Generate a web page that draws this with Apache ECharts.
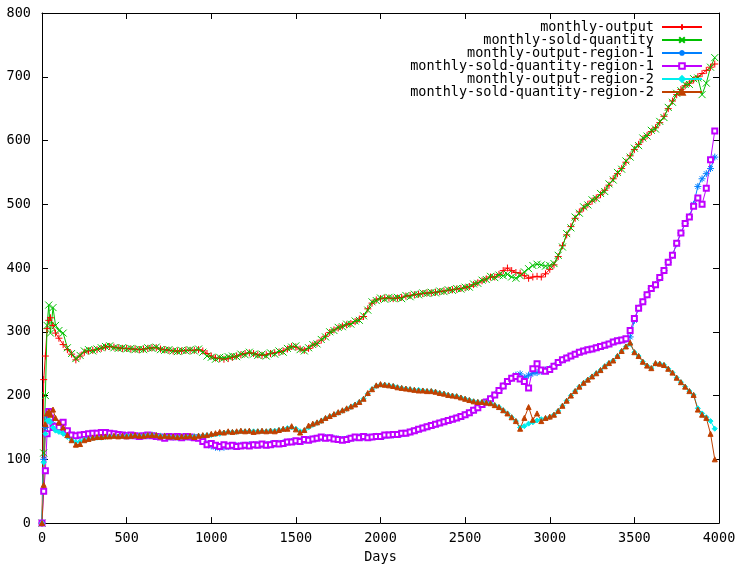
<!DOCTYPE html>
<html><head><meta charset="utf-8">
<script src="https://cdn.jsdelivr.net/npm/echarts@6/dist/echarts.min.js"></script>
<style>html,body{margin:0;padding:0;background:#fff;overflow:hidden}#c{width:739px;height:569px}</style>
</head><body><div id="c"></div>
<script>
var days = [0,10,20,30,40,50,65,80,
100,125,150,175,200,225,250,275,300,325,
350,375,400,425,450,475,500,525,550,575,
600,625,650,675,700,725,750,775,800,825,
850,875,900,925,950,975,1000,1025,1050,1075,
1100,1125,1150,1175,1200,1225,1250,1275,1300,1325,
1350,1375,1400,1425,1450,1475,1500,1525,1550,1575,
1600,1625,1650,1675,1700,1725,1750,1775,1800,1825,
1850,1875,1900,1925,1950,1975,2000,2025,2050,2075,
2100,2125,2150,2175,2200,2225,2250,2275,2300,2325,
2350,2375,2400,2425,2450,2475,2500,2525,2550,2575,
2600,2625,2650,2675,2700,2725,2750,2775,2800,2825,
2850,2875,2900,2925,2950,2975,3000,3025,3050,3075,
3100,3125,3150,3175,3200,3225,3250,3275,3300,3325,
3350,3375,3400,3425,3450,3475,3500,3525,3550,3575,
3600,3625,3650,3675,3700,3725,3750,3775,3800,3825,
3850,3875,3900,3925,3950,3975];

var monthlyOutput = [0,225,262,305,318,322,310,298,
290,280,272,265,256,262,268,270,271,272,
274,276,277,276,275,274,274,273,273,272,
273,274,275,275,273,272,271,270,270,270,
271,271,271,272,270,266,262,259,258,257,
258,260,262,264,266,267,266,264,263,264,
266,267,268,270,273,277,276,273,271,274,
279,282,287,293,299,303,306,309,311,313,
316,320,324,336,345,350,352,353,353,352,
353,354,356,357,358,359,360,361,361,362,
363,364,365,366,367,368,369,371,374,377,
380,383,386,386,390,396,400,396,393,392,
388,384,386,387,386,391,398,405,418,435,
452,465,478,488,494,500,505,510,515,522,
530,540,548,556,566,576,586,594,602,608,
614,620,628,638,650,662,672,680,686,690,
695,700,705,710,715,720];

var monthlySold = [0,110,200,310,342,298,338,310,
302,298,275,266,258,263,270,272,270,273,
275,277,278,275,274,275,273,274,272,273,
272,275,274,276,272,271,272,270,269,271,
270,272,270,273,268,262,260,257,260,259,
261,262,261,265,264,268,265,263,265,262,
267,265,270,268,274,276,278,272,270,275,
280,281,288,292,300,302,307,308,312,312,
317,318,325,334,347,349,353,351,354,352,
354,352,357,355,359,358,361,360,362,361,
364,363,366,365,368,367,370,370,375,376,
381,382,387,385,389,388,390,386,384,388,
394,399,404,406,405,403,404,407,420,433,
454,463,480,486,496,499,507,509,517,520,
532,538,550,555,568,574,588,592,604,607,
616,618,630,636,652,660,674,678,688,688,
697,698,672,690,715,730];

var outputRegion1 = [0,100,150,165,168,160,155,150,
148,142,138,136,136,137,138,139,140,140,
141,141,140,139,138,138,137,137,137,137,
137,137,138,137,136,136,135,135,135,135,
135,135,135,134,130,124,121,119,118,119,
120,121,121,122,122,123,123,123,123,123,
124,124,125,126,127,128,128,129,130,131,
132,133,134,134,134,133,132,131,132,133,
134,135,135,135,135,136,136,137,138,138,
139,140,141,143,145,147,149,151,153,155,
157,159,161,163,165,167,170,173,177,181,
186,190,195,201,208,215,222,227,232,234,
228,232,235,236,238,240,242,246,252,256,
259,262,265,268,270,272,273,275,277,279,
281,284,286,287,288,292,318,337,347,358,
368,374,384,396,409,420,438,455,470,481,
500,528,540,548,556,574];

var soldRegion1 = [0,50,82,140,175,165,150,152,
150,158,145,138,137,138,139,140,141,141,
142,142,141,140,139,138,137,138,137,136,
137,138,137,136,135,133,136,135,136,134,
136,135,134,133,128,123,125,122,120,123,
121,122,120,121,122,121,123,122,124,122,
123,125,124,125,127,127,129,128,131,130,
132,133,135,133,134,132,131,130,131,133,
135,134,136,134,135,136,136,138,138,139,
139,141,141,143,145,147,149,151,153,155,
157,159,161,163,165,167,170,173,177,181,
186,190,195,201,208,215,222,227,230,226,
222,212,242,250,240,238,241,246,252,256,
259,262,265,268,270,272,273,275,277,279,
281,284,286,287,289,302,321,337,347,358,
368,374,385,396,409,420,439,455,470,480,
497,510,500,525,570,615];

var outputRegion2 = [0,95,140,160,162,158,150,145,
143,140,135,130,127,128,131,132,133,134,
134,135,136,136,136,136,137,137,137,137,
137,138,138,137,137,136,136,135,135,135,
136,136,136,137,137,138,138,139,140,142,
143,143,143,144,144,144,144,144,144,144,
145,145,146,147,149,150,148,144,145,150,
154,157,160,164,167,170,173,176,179,182,
186,190,195,203,210,215,217,217,216,215,
213,212,211,210,209,209,208,207,207,206,
204,203,201,200,199,197,195,193,191,190,
190,189,188,185,182,177,172,166,160,150,
152,156,158,161,163,164,166,170,176,184,
192,200,207,214,220,225,230,235,240,246,
251,255,262,270,277,281,268,262,253,247,
243,250,250,248,242,236,228,221,214,207,
201,180,172,166,160,148];

var soldRegion2 = [0,60,155,172,175,170,178,165,
158,150,138,130,123,124,130,132,134,135,
135,136,136,137,136,137,136,137,138,137,
137,138,138,138,136,137,136,136,135,136,
136,137,135,137,138,138,140,141,143,142,
144,143,144,145,144,145,143,144,145,144,
145,144,146,148,148,152,147,142,146,153,
156,158,161,165,168,171,174,177,180,183,
186,190,195,204,210,216,218,217,216,215,
213,212,211,210,209,208,208,207,207,206,
204,203,201,200,199,197,195,193,191,190,
190,189,188,185,182,177,172,166,160,148,
165,182,162,172,160,165,167,170,176,184,
192,200,207,214,220,225,230,235,240,246,
251,255,262,270,277,283,268,262,253,247,
243,251,250,248,242,236,228,221,214,207,
201,178,170,165,140,100];

var seriesNames = ['monthly-output','monthly-sold-quantity','monthly-output-region-1',
  'monthly-sold-quantity-region-1','monthly-output-region-2','monthly-sold-quantity-region-2'];
var seriesValues = [monthlyOutput, monthlySold, outputRegion1, soldRegion1, outputRegion2, soldRegion2];
var colors = ['#ff0000','#00c000','#0080ff','#c000ff','#00eeee','#c04000'];
var symbols = [
  'path://M0,5L10,5M5,0L5,10',
  'path://M0,0L10,10M10,0L0,10',
  'path://M0,5L10,5M5,0L5,10M1.5,1.5L8.5,8.5M8.5,1.5L1.5,8.5',
  'emptyRect',
  'diamond',
  'triangle'
];
var symbolSizes = [7,7,7,5,5,5];

var FONT = 'DejaVu Sans Mono';
var chart = echarts.init(document.getElementById('c'), null, {renderer:'canvas', width: 739, height: 569});

var series = seriesNames.map(function(n, i){
  return {
    name: n, type: 'line',
    data: days.map(function(d, j){ return [d, seriesValues[i][j]]; }),
    symbol: symbols[i], symbolSize: symbolSizes[i],
    showSymbol: true, showAllSymbol: true,
    lineStyle: {width: 1, color: colors[i]},
    itemStyle: {color: colors[i], borderColor: colors[i], borderWidth: 1},
    emphasis: {disabled: true},
    animation: false
  };
});

function plain(v){ return String(v); }
function mkAxis(pos, max, interval, showLabel, margin){
  return {
    type: 'value', min: 0, max: max, interval: interval, position: pos,
    axisLine: {show: true, onZero: false, lineStyle: {color: '#000', width: 1}},
    axisTick: {show: true, inside: true, length: 6, lineStyle: {color: '#000'}},
    splitLine: {show: false},
    axisLabel: {show: showLabel, color: '#000', fontFamily: FONT, fontSize: 13.5, margin: margin, formatter: plain}
  };
}

var xBottom = mkAxis('bottom', 4000, 500, true, 8);
xBottom.name = 'Days'; xBottom.nameLocation = 'middle'; xBottom.nameGap = 26;
xBottom.nameTextStyle = {fontFamily: FONT, fontSize: 13.5, color: '#000'};

chart.setOption({
  backgroundColor: '#fff',
  animation: false,
  color: colors,
  grid: {left: 42, right: 20, top: 13, bottom: 43, containLabel: false},
  legend: {
    orient: 'vertical', right: 36, top: 20, align: 'right', padding: 0,
    itemWidth: 40, itemHeight: 7, itemGap: -1,
    textStyle: {fontFamily: FONT, fontSize: 13.5, color: '#000', lineHeight: 13, height: 13, padding: [0, 3, 0, 0]},
    data: seriesNames
  },
  xAxis: [xBottom, mkAxis('top', 4000, 500, false, 8)],
  yAxis: [mkAxis('left', 800, 100, true, 11), mkAxis('right', 800, 100, false, 8)],
  series: series
});
</script></body></html>
